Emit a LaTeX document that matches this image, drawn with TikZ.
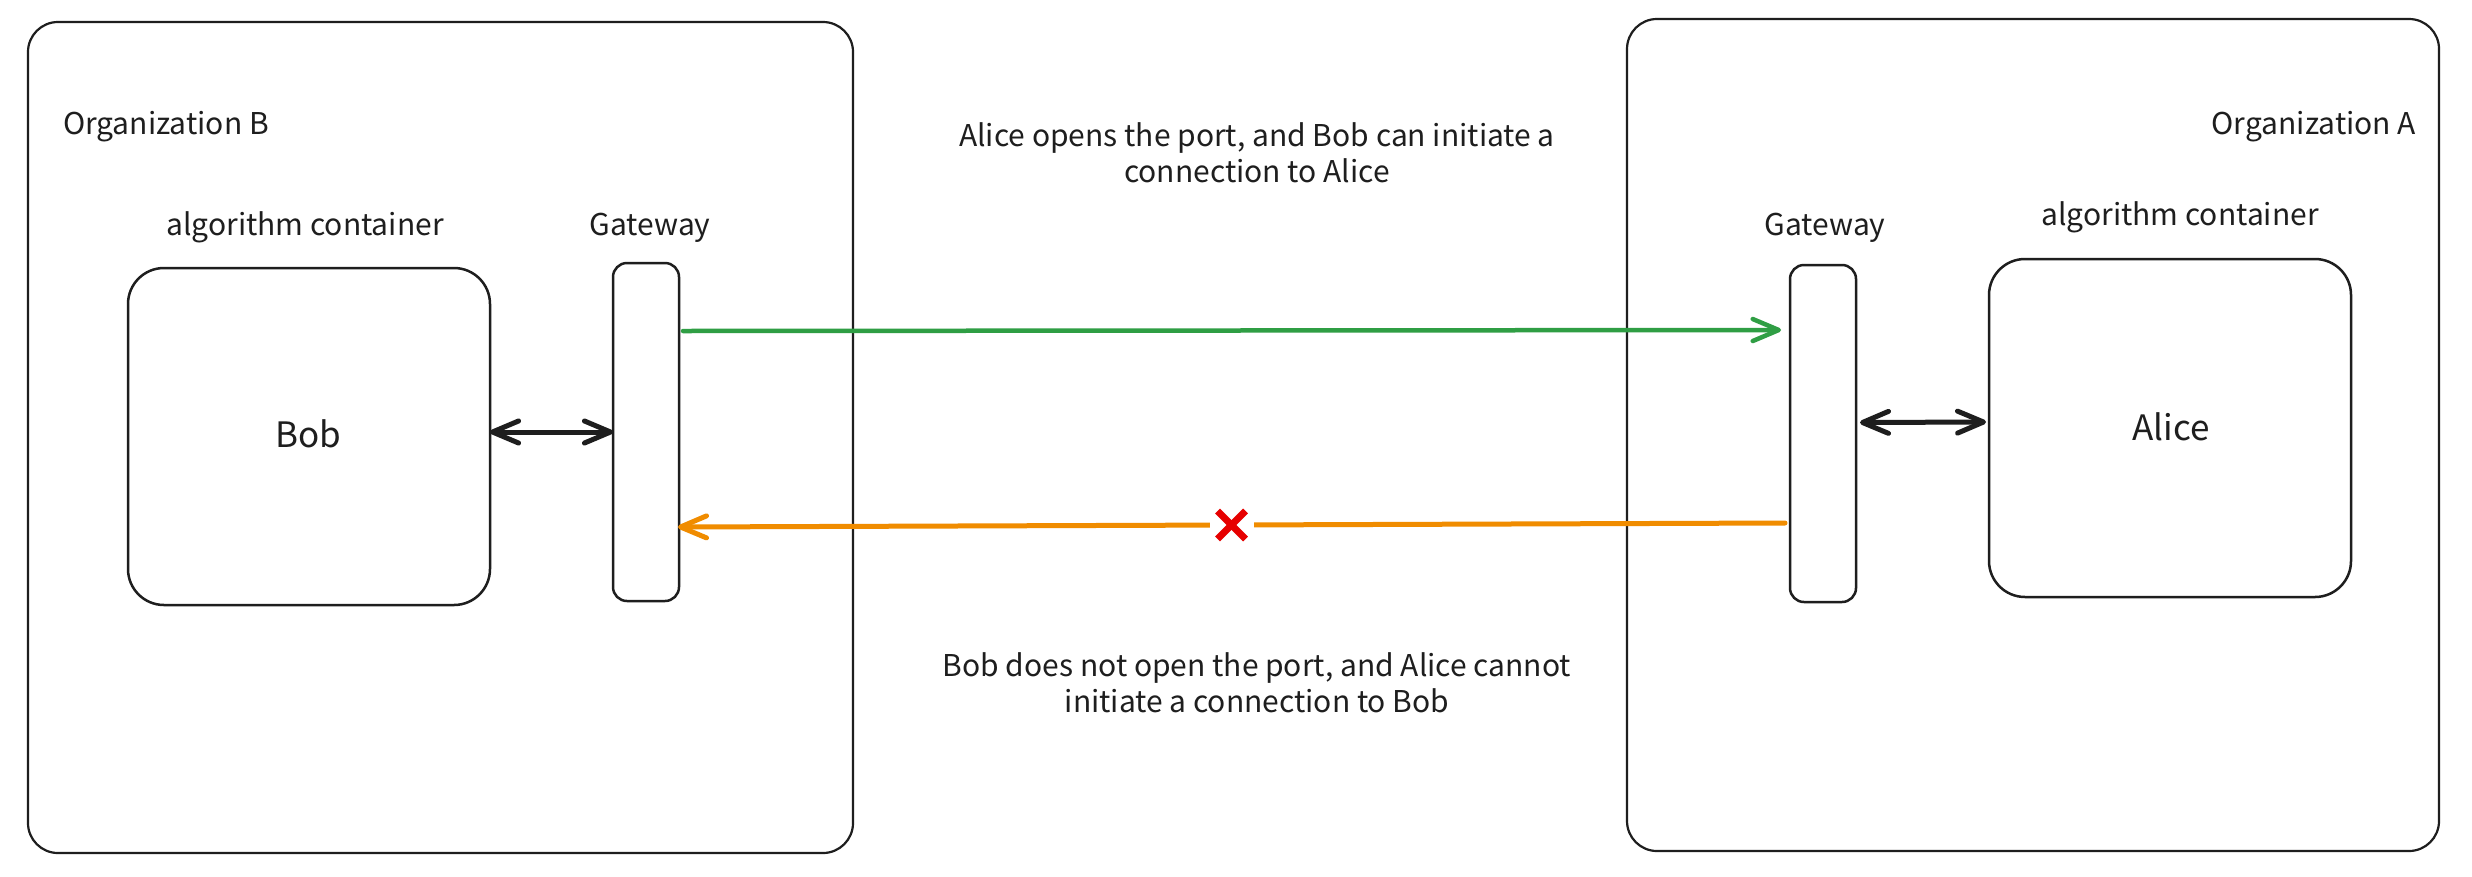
\documentclass[tikz,border=0pt]{standalone}
\usepackage{fontspec}
\newfontfamily\labelfont{Noto Sans CJK SC}
\usetikzlibrary{arrows.meta,calc}
\definecolor{ink}{HTML}{1E1E1E}
\definecolor{okgreen}{HTML}{2F9E44}
\definecolor{warnorange}{HTML}{F08C00}
\definecolor{xred}{HTML}{E60000}
\tikzset{
  box/.style={draw=ink, line width=2.5pt, inner sep=0pt, outer sep=0pt, fill=none},
  orgbox/.style={box, line width=2.2pt, rounded corners=30pt},
  procbox/.style={box, rounded corners=36pt},
  gatebox/.style={box, rounded corners=14pt},
  lbl/.style={font=\labelfont\fontsize{30pt}{35.5pt}\selectfont, inner sep=0pt, outer sep=0pt, text=ink},
  hand/.style={font=\labelfont\fontsize{35pt}{40pt}\selectfont, inner sep=0pt, outer sep=0pt, text=ink},
  barb/.tip={Straight Barb[length=26pt,width=22pt,line cap=round,line join=round]},
  biarrow/.style={draw=ink, line width=5pt, line cap=round, {barb}-{barb}},
  goarrow/.style={draw=okgreen, line width=4.5pt, line cap=round, -{barb}},
  blockarrow/.style={draw=warnorange, line width=5pt, line cap=round, -{barb}},
  xgap/.style={fill=white, minimum width=44pt, minimum height=44pt, inner sep=0pt},
  xstroke/.style={draw=xred, line width=7pt, line cap=butt, -},
}
\begin{document}
\begin{tikzpicture}[x=1pt, y=-1pt]
  \fill[white] (0,0) rectangle (2472,876);
  \useasboundingbox (0,0) rectangle (2472,876);

  % organization frames
  \node[orgbox, minimum width=825pt, minimum height=831pt] (orgB) at (440.5,437.5) {};
  \node[orgbox, minimum width=812pt, minimum height=832pt] (orgA) at (2033,435) {};

  % inner boxes
  \node[procbox, minimum width=362pt, minimum height=337pt] (bob) at (309,436.5) {};
  \node[gatebox, minimum width=66pt, minimum height=338pt] (gwB) at (646,432) {};
  \node[gatebox, minimum width=66pt, minimum height=337pt] (gwA) at (1823,433.5) {};
  \node[procbox, minimum width=362pt, minimum height=338pt] (alice) at (2170,428) {};

  % labels
  \node[lbl, anchor=base west] (orgBlbl) at (63,134) {Organization B};
  \node[lbl, anchor=base east] (orgAlbl) at (2416,134) {Organization A};
  \node[lbl, anchor=base] (algBlbl) at (305,235) {algorithm container};
  \node[lbl, anchor=base] (gwBlbl) at (650,235) {Gateway};
  \node[lbl, anchor=base] (gwAlbl) at (1825,235) {Gateway};
  \node[lbl, anchor=base] (algAlbl) at (2180,225) {algorithm container};
  \node[hand, anchor=base] (boblbl) at (308,447) {Bob};
  \node[hand, anchor=base] (alicelbl) at (2171,440) {Alice};

  \node[lbl, align=center, anchor=base] (toplbl) at (1257,182)
    {Alice opens the port, and Bob can initiate a\\connection to Alice};
  \node[lbl, align=center, anchor=base] (botlbl) at (1257,712)
    {Bob does not open the port, and Alice cannot\\initiate a connection to Bob};

  % connectors
  \draw[biarrow] (bob.east |- gwB.west) -- (gwB.west);
  \draw[biarrow] ($(gwA.east)+(4,-11)$) -- ($(alice.west)+(-3,-6)$);
  \draw[goarrow] ($(gwB.east)+(4,-101)$) -- ($(gwA.west)+(-9,-103.5)$);
  \draw[blockarrow] ($(gwA.west)+(-5,89.5)$) -- node[xgap, pos=0.5] (xm) {} ($(gwB.east)+(-1,95)$);
  \draw[xstroke] ([shift={(-14pt,14pt)}]xm.center) -- ([shift={(14pt,-14pt)}]xm.center);
  \draw[xstroke] ([shift={(-14pt,-14pt)}]xm.center) -- ([shift={(14pt,14pt)}]xm.center);
\end{tikzpicture}
\end{document}
